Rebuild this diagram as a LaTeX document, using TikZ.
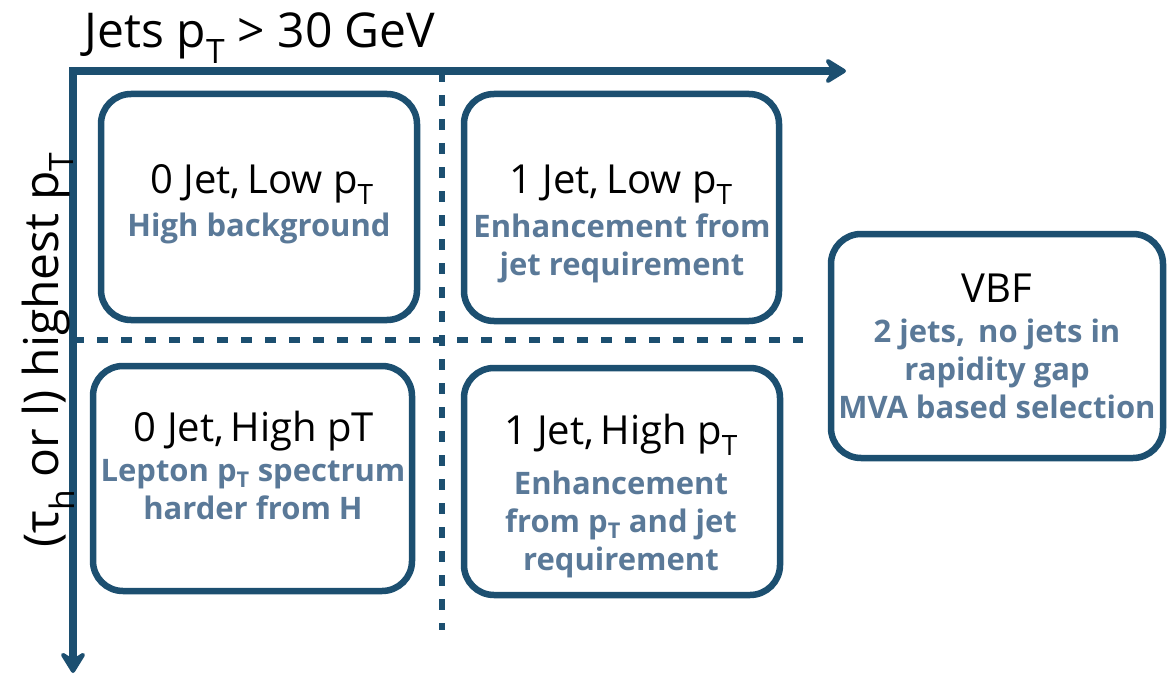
\documentclass[tikz,border=0pt]{standalone}
\usepackage{fontspec}
\setmainfont{Open Sans}
\usetikzlibrary{arrows.meta}

\definecolor{axisblue}{RGB}{28,79,112}
\definecolor{notegray}{RGB}{90,121,152}

\newcommand{\pT}{p\textsubscript{T}}

\tikzset{
  axis/.style={draw=axisblue, line width=8pt,
    arrows={Stealth[length=26pt, width=32pt, inset=10pt, round]-Stealth[length=26pt, width=32pt, inset=10pt, round]}},
  divider/.style={draw=axisblue, line width=6pt, dash pattern=on 11pt off 13pt},
  catbox/.style={draw=axisblue, line width=6.5pt, rounded corners=30pt,
    rectangle, inner sep=0pt},
  title/.style={anchor=base, inner sep=0pt, font=\fontsize{40}{44}\selectfont, text=black},
  note/.style={anchor=base, inner sep=0pt, align=center,
    font=\fontsize{31}{38}\selectfont\bfseries, text=notegray},
  axislabel/.style={inner sep=0pt, font=\fontsize{48}{52}\selectfont, text=black}
}

\begin{document}
\begin{tikzpicture}[x=1pt, y=-1pt]
  \useasboundingbox (0,0) rectangle (1167,674);

  % axes
  \coordinate (origin) at (73,71);
  \coordinate (xtip) at (846,71);
  \coordinate (ytip) at (73,673);

  % dividing lines between the four categories
  \coordinate (vtop) at (442,71);
  \coordinate (vbot) at (442,630);
  \coordinate (hleft) at (73,340);
  \coordinate (hright) at (803,340);
  \draw[divider] (vtop) -- (vbot);
  \draw[divider] (hleft) -- (hright);

  \draw[axis] (ytip) -- (origin) -- (xtip);

  % axis labels
  \node[axislabel, anchor=base] (xlabel) at (260,48) {Jets \pT{} > 30 GeV};
  \node[axislabel, anchor=base, rotate=90] (ylabel) at (58,350)
    {(τ\textsubscript{h} or l) highest \pT};

  % category boxes
  \node[catbox, minimum width=316pt, minimum height=226pt] (b00) at (259,207) {};
  \node[catbox, minimum width=315pt, minimum height=227pt] (b10) at (621.5,207.5) {};
  \node[catbox, minimum width=319pt, minimum height=225pt] (b01) at (252.5,478.5) {};
  \node[catbox, minimum width=316pt, minimum height=227pt] (b11) at (622,481.5) {};
  \node[catbox, minimum width=332pt, minimum height=224pt] (vbf) at (997,346) {};

  % 0 jet, low pT (base anchors sit on the last line of each note)
  \node[title] (t00) at (262,193) {0 Jet,\,Low \pT};
  \node[note] (n00) at (259,236) {High background};

  % 1 jet, low pT
  \node[title] (t10) at (621,193) {1 Jet,\,Low \pT};
  \node[note] (n10) at (622,275) {Enhancement from\\jet requirement};

  % 0 jet, high pT
  \node[title] (t01) at (254,441) {0 Jet,\,High pT};
  \node[note] (n01) at (253,519) {Lepton \pT{} spectrum\\harder from H};

  % 1 jet, high pT
  \node[title] (t11) at (621,444) {1 Jet,\,High \pT};
  \node[note] (n11) at (621,570) {Enhancement\\from \pT{} and jet\\requirement};

  % VBF
  \node[title] (tvbf) at (997,302) {VBF};
  \node[note] (nvbf) at (997,418) {2 jets,\, no jets in\\rapidity gap\\MVA based selection};
\end{tikzpicture}
\end{document}
